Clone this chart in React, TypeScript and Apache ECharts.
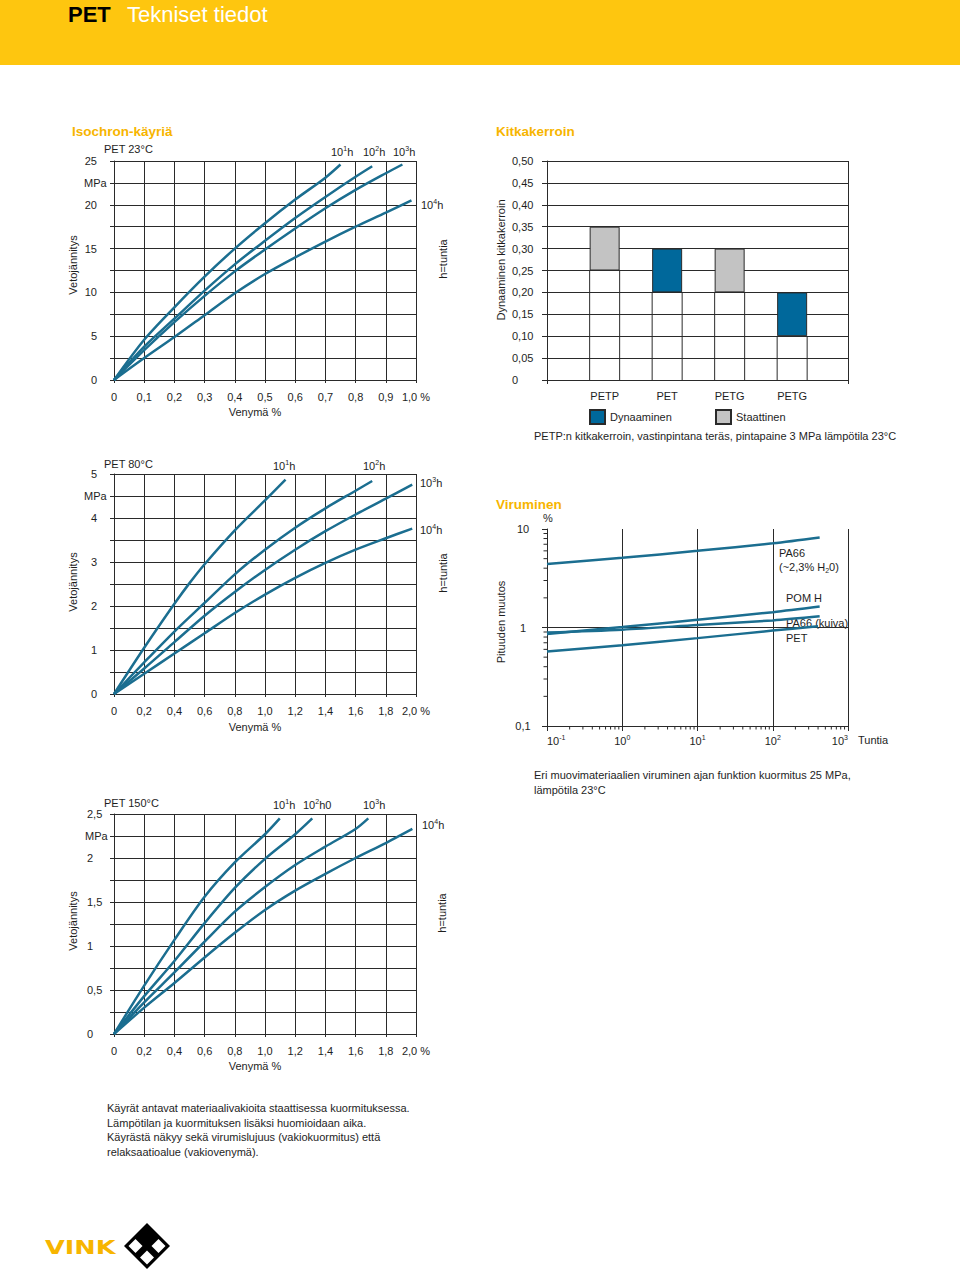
import React, { useEffect, useRef } from 'react';
import * as echarts from 'echarts';

const FONT = '"Liberation Sans", Arial, Helvetica, sans-serif';
const INK = '#1e1e1e';
const LINE = '#2a2a2a';
const CURVE = '#1b6e90';
const YELLOW = '#f7b500';
const HEADER = '#fec60f';
const BLUE = '#00689b';
const GREY = '#c3c3c3';

// ---- Isochron curves, PET 23 °C (strain %, stress MPa)
const iso23_h10 = [[0, 0], [0.1, 4.6], [0.2, 8.3], [0.3, 11.8], [0.4, 15.0], [0.5, 17.9], [0.6, 20.6], [0.7, 23.1], [0.75, 24.6]];
const iso23_h100 = [[0, 0], [0.1, 3.8], [0.2, 7.0], [0.3, 10.2], [0.4, 13.2], [0.5, 15.9], [0.6, 18.5], [0.7, 20.9], [0.8, 23.2], [0.855, 24.4]];
const iso23_h1000 = [[0, 0], [0.1, 3.4], [0.2, 6.6], [0.3, 9.6], [0.4, 12.4], [0.5, 14.9], [0.6, 17.3], [0.7, 19.6], [0.8, 21.7], [0.9, 23.6], [0.955, 24.6]];
const iso23_h10000 = [[0, 0], [0.1, 2.5], [0.2, 4.9], [0.3, 7.4], [0.4, 9.9], [0.5, 12.1], [0.6, 14.0], [0.7, 15.8], [0.8, 17.5], [0.9, 19.1], [0.985, 20.5]];

// ---- Isochron curves, PET 80 °C
const iso80_h10 = [[0, 0], [0.2, 1.05], [0.4, 2.05], [0.5, 2.52], [0.6, 2.95], [0.8, 3.72], [1.0, 4.4], [1.136, 4.87]];
const iso80_h100 = [[0, 0], [0.2, 0.72], [0.4, 1.42], [0.6, 2.07], [0.8, 2.72], [1.0, 3.28], [1.2, 3.78], [1.4, 4.22], [1.6, 4.62], [1.71, 4.84]];
const iso80_h1000 = [[0, 0], [0.2, 0.58], [0.4, 1.18], [0.6, 1.78], [0.8, 2.32], [1.0, 2.82], [1.2, 3.28], [1.4, 3.7], [1.6, 4.08], [1.8, 4.44], [1.975, 4.76]];
const iso80_h10000 = [[0, 0], [0.2, 0.46], [0.4, 0.92], [0.6, 1.38], [0.8, 1.84], [1.0, 2.26], [1.2, 2.64], [1.4, 2.98], [1.6, 3.28], [1.8, 3.54], [1.975, 3.76]];

// ---- Isochron curves, PET 150 °C
const iso150_h10 = [[0, 0], [0.2, 0.55], [0.4, 1.07], [0.6, 1.56], [0.8, 1.95], [1.0, 2.27], [1.098, 2.45]];
const iso150_h100 = [[0, 0], [0.2, 0.43], [0.4, 0.83], [0.6, 1.26], [0.8, 1.66], [1.0, 1.99], [1.2, 2.27], [1.313, 2.45]];
const iso150_h1000 = [[0, 0], [0.2, 0.36], [0.4, 0.7], [0.6, 1.05], [0.8, 1.39], [1.0, 1.67], [1.2, 1.92], [1.4, 2.13], [1.6, 2.33], [1.684, 2.45]];
const iso150_h10000 = [[0, 0], [0.2, 0.3], [0.4, 0.58], [0.6, 0.87], [0.8, 1.15], [1.0, 1.41], [1.2, 1.63], [1.4, 1.82], [1.6, 2.0], [1.8, 2.17], [1.976, 2.33]];

// ---- Kitkakerroin (friction coefficient)
const materials = ['PETP', 'PET', 'PETG', 'PETG'];
const frictionLow = [0.25, 0.2, 0.2, 0.1];
const frictionHigh = [0.35, 0.3, 0.3, 0.2];
const frictionType = ['Staattinen', 'Dynaaminen', 'Staattinen', 'Dynaaminen'];

// ---- Viruminen (creep, hours vs % length change)
const creepPA66wet = [[0.1, 4.4], [1, 5.1], [10, 6.0], [100, 7.15], [420, 8.2]];
const creepPOMH = [[0.1, 0.86], [1, 1.01], [10, 1.2], [100, 1.43], [420, 1.63]];
const creepPA66dry = [[0.1, 0.89], [1, 0.95], [10, 1.06], [100, 1.18], [420, 1.3]];
const creepPET = [[0.1, 0.57], [1, 0.66], [10, 0.78], [100, 0.93], [400, 1.03]];

// log-axis minor tick positions
const logMultipliers = [2, 3, 4, 5, 6, 7, 8, 9];
const xDecades = [0.1, 1, 10, 100];
const yDecades = [0.1, 1];

const bottomText = [
  'Käyrät antavat materiaalivakioita staattisessa kuormituksessa.',
  'Lämpötilan ja kuormituksen lisäksi huomioidaan aika.',
  'Käyrästä näkyy sekä virumislujuus (vakiokuormitus) että',
  'relaksaatioalue (vakiovenymä).',
];

const lbl = { fontSize: 11, color: INK, fontFamily: FONT };
const BAR_W = 30;

function comma(v: number, d: number) {
  return v.toFixed(d).replace('.', ',');
}

function isoX(grid: number, max: number, step: number) {
  return {
    type: 'value', gridIndex: grid, min: 0, max, interval: step,
    axisLine: { show: true, lineStyle: { color: LINE, width: 1 } },
    axisTick: { show: true, length: 3, lineStyle: { color: LINE, width: 1 } },
    splitLine: { show: true, lineStyle: { color: LINE, width: 1 } },
    axisLabel: {
      ...lbl, margin: 11, showMinLabel: true, showMaxLabel: true,
      formatter: (v: number) => (v === 0 ? '0' : comma(v, 1) + (Math.abs(v - max) < 1e-9 ? ' %' : '')),
    },
  };
}

function isoY(grid: number, max: number, step: number, fmt: (v: number) => string, align: string, margin: number) {
  return {
    type: 'value', gridIndex: grid, min: 0, max, interval: step,
    axisLine: { show: true, lineStyle: { color: LINE, width: 1 } },
    axisTick: { show: true, length: 4, lineStyle: { color: LINE, width: 1 } },
    splitLine: { show: true, lineStyle: { color: LINE, width: 1 } },
    axisLabel: { ...lbl, margin, align, showMinLabel: true, showMaxLabel: true, formatter: fmt },
  };
}

function curve(grid: number, data: number[][]) {
  return {
    type: 'line', xAxisIndex: grid, yAxisIndex: grid, data, smooth: 0.3,
    showSymbol: false, symbol: 'none', silent: true, z: 3,
    lineStyle: { color: CURVE, width: 2.5 },
  };
}

function txt(x: number, y: number, text: string, o: any = {}) {
  const { rotation, scaleX, ...st } = o;
  const el: any = {
    type: 'text', x, y, silent: true,
    style: {
      text, fontSize: 11, fontFamily: FONT, fill: INK, align: 'left', verticalAlign: 'middle', lineHeight: 14,
      rich: {
        s: { fontSize: 7, lineHeight: 7, verticalAlign: 'top', fontFamily: FONT, fill: INK },
        u: { fontSize: 7, lineHeight: 7, verticalAlign: 'bottom', fontFamily: FONT, fill: INK },
      },
      ...st,
    },
  };
  if (rotation) el.rotation = rotation;
  if (scaleX) el.scaleX = scaleX;
  return el;
}

const ROT = Math.PI / 2;

function diamond(cx: number, cy: number, h: number, fill: string) {
  return {
    type: 'polygon', silent: true,
    shape: { points: [[cx, cy - h], [cx + h, cy], [cx, cy + h], [cx - h, cy]] },
    style: { fill },
  };
}

function buildOption() {
  const xMinor: number[][] = [];
  xDecades.forEach((d) => logMultipliers.forEach((m) => xMinor.push([d * m, 1])));
  const yMinor: number[][] = [];
  yDecades.forEach((d) => logMultipliers.forEach((m) => yMinor.push([1, d * m])));
  const sup: Record<string, string> = { '-1': '-1', '0': '0', '1': '1', '2': '2', '3': '3' };

  const graphic: any[] = [
    { type: 'rect', silent: true, shape: { x: 0, y: 0, width: 960, height: 65 }, style: { fill: HEADER } },
    txt(68, 14, 'PET', { fontSize: 22, fontWeight: 'bold', fill: '#000', lineHeight: 24 }),
    txt(127, 14, 'Tekniset tiedot', { fontSize: 22, fill: '#fff', lineHeight: 24 }),
    txt(72, 131, 'Isochron-käyriä', { fontSize: 13.5, fontWeight: 'bold', fill: YELLOW }),
    txt(496, 131, 'Kitkakerroin', { fontSize: 13.5, fontWeight: 'bold', fill: YELLOW }),
    txt(496, 504, 'Viruminen', { fontSize: 13.5, fontWeight: 'bold', fill: YELLOW }),

    // chart 1
    txt(104, 149, 'PET 23°C'),
    txt(84, 183, 'MPa'),
    txt(72.5, 265, 'Vetojännitys', { rotation: ROT, align: 'center' }),
    txt(443, 259, 'h=tuntia', { rotation: ROT, align: 'center' }),
    txt(255, 412, 'Venymä %', { align: 'center' }),
    txt(331, 152, '10{s|1}h'),
    txt(363, 152, '10{s|2}h'),
    txt(393, 152, '10{s|3}h'),
    txt(421, 205, '10{s|4}h'),

    // chart 3
    txt(104, 464, 'PET 80°C'),
    txt(84, 496, 'MPa'),
    txt(72.5, 582, 'Vetojännitys', { rotation: ROT, align: 'center' }),
    txt(443, 573, 'h=tuntia', { rotation: ROT, align: 'center' }),
    txt(255, 727, 'Venymä %', { align: 'center' }),
    txt(273, 466, '10{s|1}h'),
    txt(363, 466, '10{s|2}h'),
    txt(420, 483, '10{s|3}h'),
    txt(420, 530, '10{s|4}h'),

    // chart 5
    txt(104, 803, 'PET 150°C'),
    txt(85, 836, 'MPa'),
    txt(72.5, 921, 'Vetojännitys', { rotation: ROT, align: 'center' }),
    txt(442, 913, 'h=tuntia', { rotation: ROT, align: 'center' }),
    txt(255, 1066, 'Venymä %', { align: 'center' }),
    txt(273, 805, '10{s|1}h'),
    txt(303, 805, '10{s|2}h0'),
    txt(363, 805, '10{s|3}h'),
    txt(422, 825, '10{s|4}h'),

    // chart 2
    txt(500.5, 260, 'Dynaaminen kitkakerroin', { rotation: ROT, align: 'center' }),
    txt(534, 436, 'PETP:n kitkakerroin, vastinpintana teräs, pintapaine 3 MPa lämpötila 23°C'),

    // chart 4
    txt(500.5, 622, 'Pituuden muutos', { rotation: ROT, align: 'center' }),
    txt(543, 518, '%'),
    txt(858, 740, 'Tuntia'),
    txt(779, 553, 'PA66'),
    txt(779, 567, '(~2,3% H{u|2}0)'),
    txt(786, 598, 'POM H'),
    txt(786, 623, 'PA66 (kuiva)'),
    txt(786, 638, 'PET'),
    txt(534, 775, 'Eri muovimateriaalien viruminen ajan funktion kuormitus 25 MPa,'),
    txt(534, 790, 'lämpötila 23°C'),

    // logo
    txt(45, 1247, 'VINK', { fontSize: 20, fontWeight: 'bold', fontFamily: '"DejaVu Sans", "Liberation Sans", sans-serif', fill: YELLOW, scaleX: 1.28 }),
    diamond(147, 1246, 23, '#000'),
    diamond(135.5, 1246, 7, '#fff'),
    diamond(158.5, 1246, 7, '#fff'),
    diamond(147, 1257.5, 7, '#fff'),
  ];
  bottomText.forEach((line, i) => graphic.push(txt(107, 1108 + i * 14.7, line)));

  const stackSeg = (type: string) =>
    frictionLow.map((lo, i) => (frictionType[i] === type ? +(frictionHigh[i] - lo).toFixed(3) : '-'));

  return {
    animation: false,
    backgroundColor: '#fff',
    textStyle: { fontFamily: FONT },
    grid: [
      { left: 114, top: 161, width: 302, height: 219 },
      { left: 547, top: 161, width: 301, height: 219 },
      { left: 573.4, top: 161, width: 250, height: 219 },
      { left: 114, top: 474, width: 302, height: 220 },
      { left: 547, top: 529, width: 301, height: 197 },
      { left: 114, top: 814, width: 302, height: 220 },
    ],
    legend: [
      {
        left: 589, top: 409, padding: 0, itemWidth: 15, itemHeight: 14, selectedMode: false,
        data: [{ name: 'Dynaaminen', icon: 'rect' }], textStyle: { ...lbl },
      },
      {
        left: 715, top: 409, padding: 0, itemWidth: 15, itemHeight: 14, selectedMode: false,
        data: [{ name: 'Staattinen', icon: 'rect' }], textStyle: { ...lbl },
      },
    ],
    xAxis: [
      isoX(0, 1, 0.1),
      {
        type: 'value', gridIndex: 1, min: 0, max: 1, interval: 1,
        axisLine: { show: true, lineStyle: { color: LINE, width: 1 } },
        axisTick: { show: true, length: 4, lineStyle: { color: LINE } },
        splitLine: { show: true, lineStyle: { color: LINE, width: 1 } },
        axisLabel: { show: false },
      },
      {
        type: 'category', gridIndex: 2, data: materials,
        axisLine: { show: false }, axisTick: { show: false }, splitLine: { show: false }, splitArea: { show: false },
        axisLabel: { ...lbl, margin: 10, interval: 0 },
      },
      isoX(3, 2, 0.2),
      {
        type: 'log', gridIndex: 4, min: 0.1, max: 1000, logBase: 10,
        axisLine: { show: true, lineStyle: { color: LINE, width: 1 } },
        axisTick: { show: true, length: 5, lineStyle: { color: LINE } },
        splitLine: { show: true, showMinLine: false, showMaxLine: true, lineStyle: { color: LINE, width: 1 } },
        axisLabel: {
          ...lbl, margin: 8, showMinLabel: true, showMaxLabel: true, lineHeight: 14,
          alignMinLabel: 'left', alignMaxLabel: 'right',
          formatter: (v: number) => '10{s|' + sup[String(Math.round(Math.log10(v)))] + '}',
          rich: { s: { fontSize: 7, lineHeight: 7, verticalAlign: 'top', color: INK, fontFamily: FONT } },
        },
      },
      isoX(5, 2, 0.2),
    ],
    yAxis: [
      isoY(0, 25, 2.5, (v) => (Math.abs(v % 5) < 1e-9 ? String(v) : ''), 'right', 17),
      {
        type: 'value', gridIndex: 1, min: 0, max: 0.5, interval: 0.05,
        axisLine: { show: true, lineStyle: { color: LINE, width: 1 } },
        axisTick: { show: true, length: 5, lineStyle: { color: LINE } },
        splitLine: { show: true, lineStyle: { color: LINE, width: 1 } },
        axisLabel: {
          ...lbl, align: 'left', margin: 35, showMinLabel: true, showMaxLabel: true,
          formatter: (v: number) => (v === 0 ? '0' : comma(v, 2)),
        },
      },
      { type: 'value', gridIndex: 2, min: 0, max: 0.5, show: false, splitLine: { show: false }, splitArea: { show: false } },
      isoY(3, 5, 0.5, (v) => (Math.abs(v - Math.round(v)) < 1e-9 ? String(Math.round(v)) : ''), 'right', 17),
      {
        type: 'log', gridIndex: 4, min: 0.1, max: 10, logBase: 10,
        axisLine: { show: true, lineStyle: { color: LINE, width: 1 } },
        axisTick: { show: true, length: 5, lineStyle: { color: LINE } },
        splitLine: { show: true, showMinLine: false, showMaxLine: false, lineStyle: { color: LINE, width: 1 } },
        axisLabel: {
          ...lbl, align: 'center', margin: 24, showMinLabel: true, showMaxLabel: true,
          formatter: (v: number) => (v < 0.5 ? '0,1' : String(Math.round(v))),
        },
      },
      isoY(5, 2.5, 0.25, (v) => (Math.abs(v * 2 - Math.round(v * 2)) < 1e-9 ? (v === 0 ? '0' : comma(v, Number.isInteger(v) ? 0 : 1)) : ''), 'left', 27),
    ],
    graphic,
    series: [
      curve(0, iso23_h10), curve(0, iso23_h100), curve(0, iso23_h1000), curve(0, iso23_h10000),
      curve(3, iso80_h10), curve(3, iso80_h100), curve(3, iso80_h1000), curve(3, iso80_h10000),
      curve(5, iso150_h10), curve(5, iso150_h100), curve(5, iso150_h1000), curve(5, iso150_h10000),
      { type: 'scatter', xAxisIndex: 1, yAxisIndex: 1, data: [], silent: true },
      {
        type: 'bar', name: 'pohja', xAxisIndex: 2, yAxisIndex: 2, stack: 'f', barWidth: BAR_W, silent: true,
        data: frictionLow, itemStyle: { opacity: 0 },
      },
      {
        type: 'bar', name: 'Dynaaminen', xAxisIndex: 2, yAxisIndex: 2, stack: 'f', barWidth: BAR_W, silent: true,
        data: stackSeg('Dynaaminen'), itemStyle: { color: BLUE, borderColor: LINE, borderWidth: 1 },
      },
      {
        type: 'bar', name: 'Staattinen', xAxisIndex: 2, yAxisIndex: 2, stack: 'f', barWidth: BAR_W, silent: true,
        data: stackSeg('Staattinen'), itemStyle: { color: GREY, borderColor: LINE, borderWidth: 1 },
      },
      {
        // vertical edge lines under each floating bar
        type: 'custom', xAxisIndex: 2, yAxisIndex: 2, silent: true, encode: { x: 0, y: 1 },
        data: frictionLow.map((lo, i) => [i, lo]),
        renderItem: (_p: any, api: any) => {
          const top = api.coord([api.value(0), api.value(1)]);
          const bot = api.coord([api.value(0), 0]);
          const h = BAR_W / 2;
          return {
            type: 'group',
            children: [
              { type: 'line', shape: { x1: top[0] - h, y1: top[1], x2: top[0] - h, y2: bot[1] }, style: { stroke: LINE, lineWidth: 1 } },
              { type: 'line', shape: { x1: top[0] + h, y1: top[1], x2: top[0] + h, y2: bot[1] }, style: { stroke: LINE, lineWidth: 1 } },
            ],
          };
        },
      },
      curve(4, creepPA66wet), curve(4, creepPOMH), curve(4, creepPA66dry), curve(4, creepPET),
      {
        type: 'custom', xAxisIndex: 4, yAxisIndex: 4, data: xMinor, silent: true, encode: { x: 0, y: 1 },
        renderItem: (_p: any, api: any) => {
          const p = api.coord([api.value(0), 0.1]);
          return { type: 'line', shape: { x1: p[0], y1: p[1], x2: p[0], y2: p[1] + 3.5 }, style: { stroke: LINE, lineWidth: 1 } };
        },
      },
      {
        type: 'custom', xAxisIndex: 4, yAxisIndex: 4, data: yMinor, silent: true, encode: { x: 0, y: 1 },
        renderItem: (_p: any, api: any) => {
          const p = api.coord([0.1, api.value(1)]);
          return { type: 'line', shape: { x1: p[0] - 3.5, y1: p[1], x2: p[0], y2: p[1] }, style: { stroke: LINE, lineWidth: 1 } };
        },
      },
    ],
  };
}

export default function App() {
  const ref = useRef<HTMLDivElement>(null);
  useEffect(() => {
    if (!ref.current) return;
    const chart = echarts.init(ref.current, undefined, { renderer: 'svg' });
    chart.setOption(buildOption() as any);
    return () => chart.dispose();
  }, []);
  return (
    <div
      ref={ref}
      style={{ position: 'absolute', left: 0, top: 0, width: 960, height: 1273, background: '#fff' }}
    />
  );
}
